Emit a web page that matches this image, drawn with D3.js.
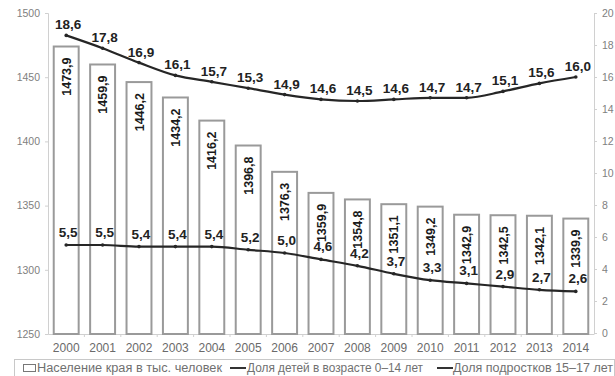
<!DOCTYPE html>
<html>
<head>
<meta charset="utf-8">
<script src="https://cdn.jsdelivr.net/npm/d3@7/dist/d3.min.js"></script>
<style>
  html, body { margin: 0; padding: 0; background: #fff; }
  svg, svg text { font-family: "Liberation Sans", Arial, sans-serif; }
  svg { display: block; }
</style>
</head>
<body>
<svg id="chart" width="615" height="376"></svg>
<script>
// Population of the region (thousand people) and shares of children / teenagers (%)
const years = ["2000","2001","2002","2003","2004","2005","2006","2007","2008","2009","2010","2011","2012","2013","2014"];
const population = [1473.9, 1459.9, 1446.2, 1434.2, 1416.2, 1396.8, 1376.3, 1359.9, 1354.8, 1351.1, 1349.2, 1342.9, 1342.5, 1342.1, 1339.9];
const children = [18.6, 17.8, 16.9, 16.1, 15.7, 15.3, 14.9, 14.6, 14.5, 14.6, 14.7, 14.7, 15.1, 15.6, 16.0];
const teens = [5.5, 5.5, 5.4, 5.4, 5.4, 5.2, 5.0, 4.6, 4.2, 3.7, 3.3, 3.1, 2.9, 2.7, 2.6];
const leftTicks = [1250, 1300, 1350, 1400, 1450, 1500];
const rightTicks = [0, 2, 4, 6, 8, 10, 12, 14, 16, 18, 20];
const legendLabels = ["Население края в тыс. человек", "Доля детей в возрасте 0–14 лет", "Доля подростков 15–17 лет"];

const fmt = v => d3.format(".1f")(v).replace(".", ",");
const FONT = '"Liberation Sans", Arial, sans-serif';

const svg = d3.select("#chart");
const m = { left: 48, right: 594, top: 13, bottom: 334 };

const x = d3.scaleBand().domain(years).range([m.left, m.right]).paddingInner(0.26).paddingOuter(0.13);
const yL = d3.scaleLinear().domain([1250, 1500]).range([m.bottom, m.top]);
const yR = d3.scaleLinear().domain([0, 20]).range([m.bottom - 1, m.top]);

// axes
const axisColor = "#d0d0d0";
const gL = svg.append("g").attr("transform", `translate(${m.left},0)`)
  .call(d3.axisLeft(yL).tickValues(leftTicks).tickFormat(d3.format("d")).tickSize(3).tickPadding(5));
const gR = svg.append("g").attr("transform", `translate(${m.right},0)`)
  .call(d3.axisRight(yR).tickValues(rightTicks).tickFormat(d3.format("d")).tickSize(3).tickPadding(5));
const gB = svg.append("g").attr("transform", `translate(0,${m.bottom})`)
  .call(d3.axisBottom(x).tickSize(0).tickPadding(9));

[gL, gR, gB].forEach(g => {
  g.attr("font-family", FONT);
  g.select(".domain").attr("stroke", axisColor);
  g.selectAll(".tick line").attr("stroke", axisColor);
});
gL.selectAll("text").attr("fill", "#808080").style("font-size", "10.5px");
gR.selectAll("text").attr("fill", "#808080").style("font-size", "10.5px");
gB.selectAll("text").attr("fill", "#6a6a6a").style("font-size", "12px");

// small separators between categories on the bottom axis
const step = x.step();
gB.selectAll(".sep").data(years.slice(1)).enter().append("line")
  .attr("x1", d => x(d) - (step - x.bandwidth()) / 2)
  .attr("x2", d => x(d) - (step - x.bandwidth()) / 2)
  .attr("y1", 0).attr("y2", 3).attr("stroke", axisColor);

// bars
svg.append("g").selectAll("rect").data(population).enter().append("rect")
  .attr("x", (d, i) => x(years[i]) + 1)
  .attr("y", d => yL(d))
  .attr("width", x.bandwidth() - 2)
  .attr("height", d => yL(1250) - yL(d))
  .attr("fill", "#fff")
  .attr("stroke", "#9a9a9a")
  .attr("stroke-width", 2);

// rotated value labels inside bars
svg.append("g").selectAll("text").data(population).enter().append("text")
  .attr("transform", (d, i) => `translate(${x(years[i]) + x.bandwidth() / 2 + 4.5},${yL(d) + 11}) rotate(-90)`)
  .attr("text-anchor", "end")
  .attr("fill", "#1a1a1a")
  .style("font-size", "12.5px")
  .style("font-weight", "bold")
  .text(fmt);

// lines on the right scale
const cx = i => x(years[i]) + x.bandwidth() / 2;
const line = d3.line().x((d, i) => cx(i)).y(d => yR(d)).curve(d3.curveMonotoneX);

function drawSeries(values, dy) {
  const g = svg.append("g");
  g.append("path").datum(values).attr("d", line)
    .attr("fill", "none").attr("stroke", "#262626").attr("stroke-width", 2.2);
  g.selectAll("circle").data(values).enter().append("circle")
    .attr("cx", (d, i) => cx(i)).attr("cy", d => yR(d)).attr("r", 1.8).attr("fill", "#262626");
  g.selectAll("text").data(values).enter().append("text")
    .attr("x", (d, i) => cx(i) + 2)
    .attr("y", d => yR(d) - dy)
    .attr("text-anchor", "middle")
    .attr("fill", "#222")
    .style("font-size", "13.5px")
    .style("font-weight", "bold")
    .text(fmt);
}
drawSeries(children, 6);
drawSeries(teens, 8);

// legend
const lg = svg.append("g");
lg.append("rect").attr("x", 14.5).attr("y", 359.5).attr("width", 600).attr("height", 20)
  .attr("fill", "none").attr("stroke", "#c8c8c8");
const ly = 368;
lg.append("rect").attr("x", 23.5).attr("y", ly - 3.5).attr("width", 12).attr("height", 7)
  .attr("fill", "#fff").attr("stroke", "#777");
const legendX = [37, 247, 453];
const legendW = [185, 176, 160];
lg.append("line").attr("x1", 230).attr("x2", 246).attr("y1", ly).attr("y2", ly).attr("stroke", "#333").attr("stroke-width", 2);
lg.append("line").attr("x1", 437).attr("x2", 453).attr("y1", ly).attr("y2", ly).attr("stroke", "#333").attr("stroke-width", 2);
lg.selectAll("text.leg").data(legendLabels).enter().append("text")
  .attr("class", "leg")
  .attr("x", (d, i) => legendX[i])
  .attr("y", ly + 4)
  .attr("fill", "#707070")
  .attr("textLength", (d, i) => legendW[i])
  .attr("lengthAdjust", "spacingAndGlyphs")
  .style("font-size", "12px")
  .text(d => d);
</script>
</body>
</html>
